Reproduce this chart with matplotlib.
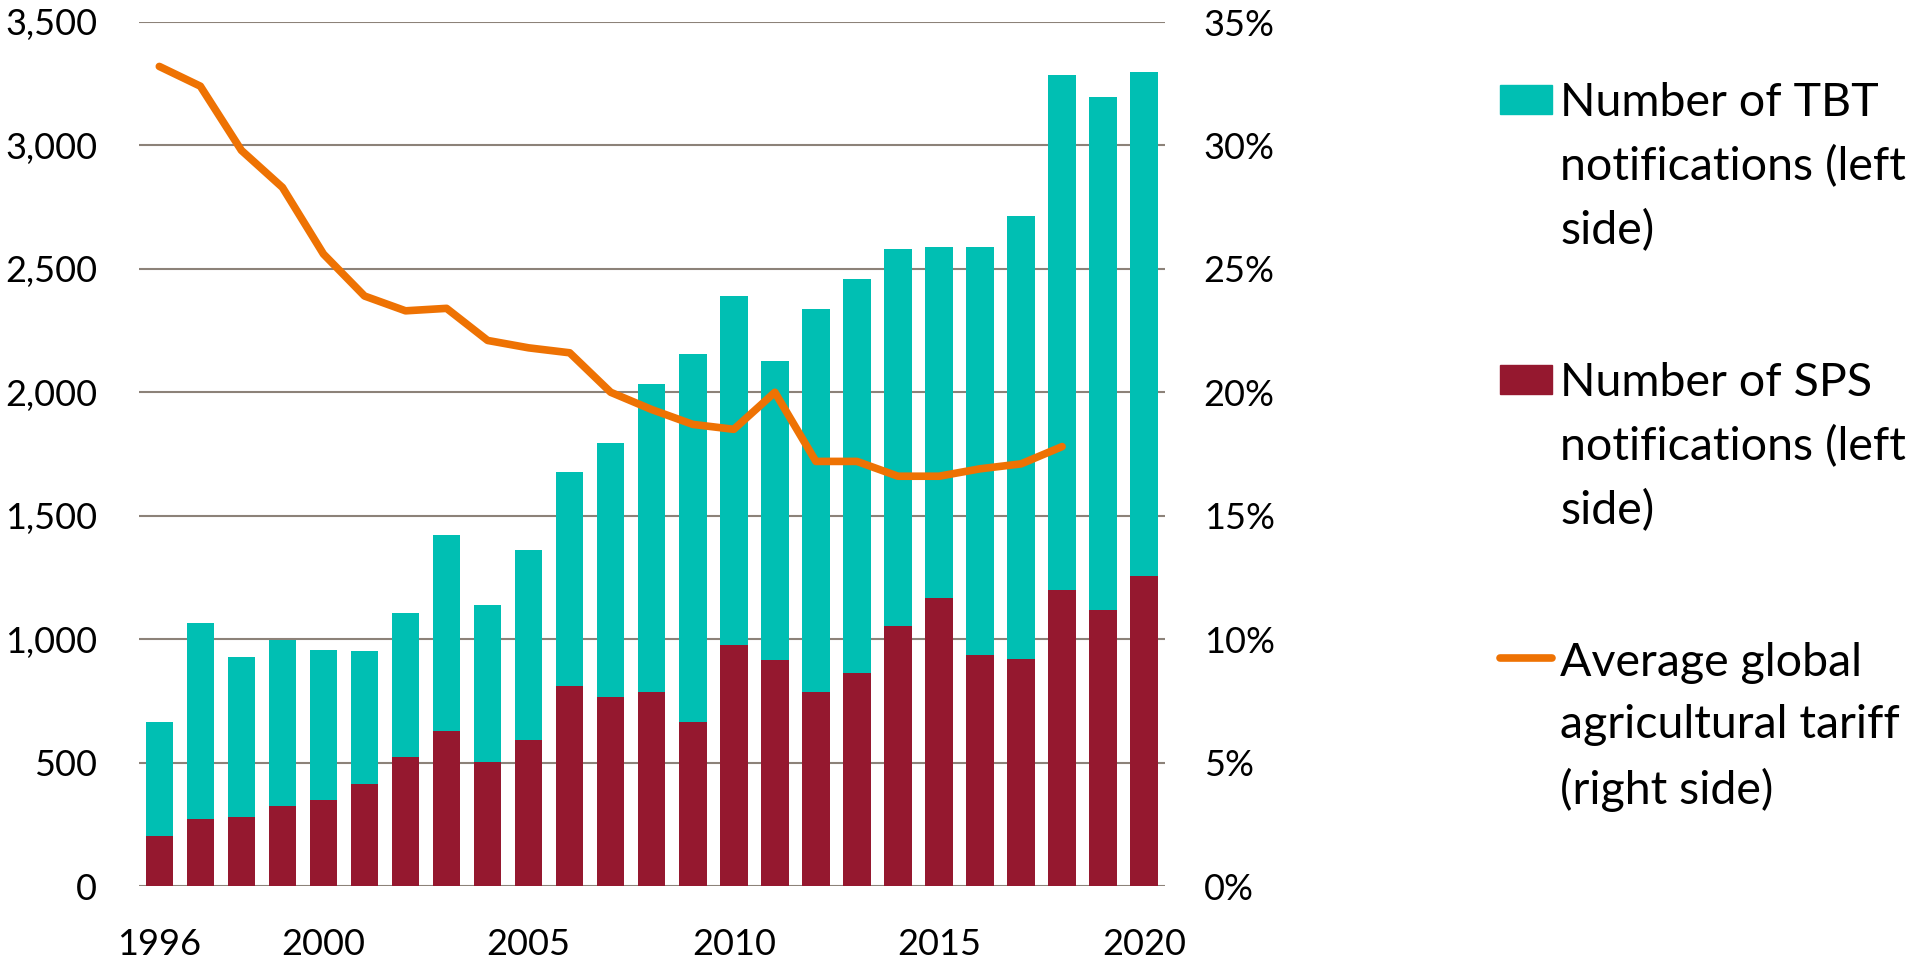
import matplotlib
matplotlib.use("Agg")
import matplotlib.pyplot as plt
from matplotlib.patches import Rectangle
from matplotlib.lines import Line2D
from matplotlib.ticker import FuncFormatter

plt.rcParams['font.family'] = ['Lato', 'DejaVu Sans']

### data
years = list(range(1996, 2021))
sps = [201, 273, 278, 325, 350, 412, 524, 626, 504, 593, 809, 765, 784, 665,
       978, 916, 784, 861, 1052, 1167, 936, 921, 1201, 1120, 1254]
total = [663, 1067, 926, 998, 956, 951, 1107, 1420, 1139, 1360, 1678, 1795,
         2033, 2155, 2390, 2127, 2338, 2457, 2582, 2589, 2587, 2713, 3287,
         3195, 3296]
tbt = [t - s for t, s in zip(total, sps)]

tariff_years = list(range(1996, 2019))
tariff = [33.2, 32.4, 29.8, 28.3, 25.6, 23.9, 23.3, 23.4, 22.1, 21.8, 21.6,
          20.0, 19.3, 18.7, 18.5, 20.0, 17.2, 17.2, 16.6, 16.6, 16.9, 17.1,
          17.8]

xtick_years = [1996, 2000, 2005, 2010, 2015, 2020]

labels = ["Number of TBT\nnotifications (left\nside)",
          "Number of SPS\nnotifications (left\nside)",
          "Average global\nagricultural tariff\n(right side)"]

teal = "#00BFB3"
maroon = "#95182F"
orange = "#EE7203"
grid_col = "#8C8279"

W, H = 1926, 959
fig = plt.figure(figsize=(W / 100, H / 100), dpi=100)
ax = fig.add_axes([138.8 / W, 1 - 886 / H, (1164.7 - 138.8) / W, (886 - 22) / H])

ax.bar(years, sps, width=0.67, color=maroon, zorder=3)
ax.bar(years, tbt, width=0.67, bottom=sps, color=teal, zorder=3)

ax.set_xlim(1995.5, 2020.5)
ax.set_ylim(0, 3500)
ax.set_yticks(range(0, 3501, 500))
ax.yaxis.set_major_formatter(FuncFormatter(lambda v, p: "{:,.0f}".format(v)))
ax.set_xticks(xtick_years)
ax.grid(axis="y", color=grid_col, linewidth=1.5, zorder=0)
for s in ["top", "left", "right", "bottom"]:
    ax.spines[s].set_visible(False)
ax.tick_params(axis="y", length=0, labelsize=26, pad=30)
ax.tick_params(axis="x", length=0, labelsize=26, pad=30)

ax2 = ax.twinx()
ax2.plot(tariff_years, tariff, color=orange, linewidth=5.5, zorder=4,
         solid_capstyle="round", solid_joinstyle="round")
ax2.set_ylim(0, 35)
ax2.set_yticks(range(0, 36, 5))
ax2.yaxis.set_major_formatter(FuncFormatter(lambda v, p: "{:.0f}%".format(v)))
for s in ["top", "left", "right", "bottom"]:
    ax2.spines[s].set_visible(False)
ax2.tick_params(axis="y", length=0, labelsize=26, pad=28)

# legend, drawn by hand so the keys sit at the first text line
baselines = [114, 394, 674]
line_gap = 65
for i, (lab, y) in enumerate(zip(labels, baselines)):
    yf = 1 - y / H
    if i < 2:
        fig.patches.append(Rectangle((1500 / W, yf), 52 / W, 29 / H,
                                     color=[teal, maroon][i],
                                     transform=fig.transFigure))
    else:
        fig.lines.append(Line2D([1500 / W, 1552 / W], [yf + 16 / H] * 2,
                                color=orange, linewidth=5.5,
                                solid_capstyle="round",
                                transform=fig.transFigure))
    # baseline alignment uses the last line of a multi-line text
    fig.text(1560 / W, 1 - (y + 2 * line_gap) / H, lab, fontsize=33.5,
             va="baseline", ha="left", linespacing=1.6)

fig.savefig("out.png", dpi=100)
